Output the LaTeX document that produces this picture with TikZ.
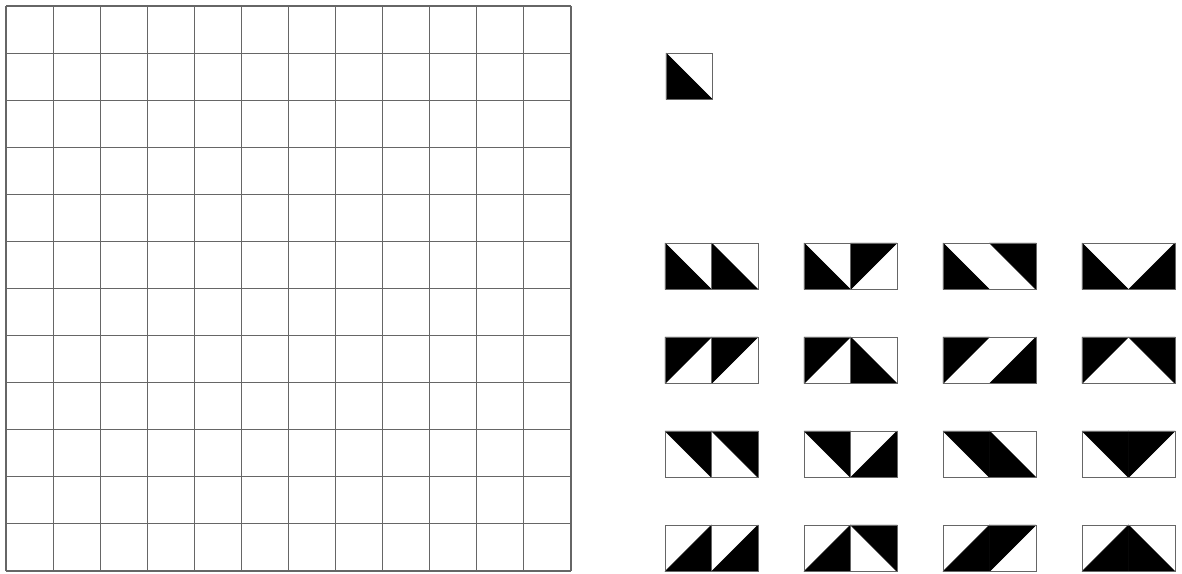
\documentclass[tikz,border=0pt]{standalone}
\usetikzlibrary{calc}
\definecolor{ink}{HTML}{000000}
\definecolor{rule}{HTML}{666666}
\tikzset{
  gridline/.style={draw=rule,line width=1.1pt},
  tileframe/.style={draw=rule,line width=0.9pt},
  wedge/.style={fill=ink,draw=ink,line width=0.5pt,line join=round}
}
\newcommand{\ts}{46.5}
% black half of one square: a lower-left, b upper-left, c upper-right, d lower-right
\newcommand{\wedgea}[2]{\filldraw[wedge] (#1,#2) -- (#1,#2+\ts) -- (#1+\ts,#2+\ts) -- cycle;}
\newcommand{\wedgeb}[2]{\filldraw[wedge] (#1,#2) -- (#1+\ts,#2) -- (#1,#2+\ts) -- cycle;}
\newcommand{\wedgec}[2]{\filldraw[wedge] (#1,#2) -- (#1+\ts,#2) -- (#1+\ts,#2+\ts) -- cycle;}
\newcommand{\wedged}[2]{\filldraw[wedge] (#1+\ts,#2) -- (#1+\ts,#2+\ts) -- (#1,#2+\ts) -- cycle;}
\newcommand{\halftile}[3]{\csname wedge#3\endcsname{#1}{#2}}

\begin{document}
\begin{tikzpicture}[x=1pt,y=-1pt]
    \useasboundingbox (0,0) rectangle (1182,573);

    % empty board
    \foreach \i in {0,...,12} {
      \draw[gridline] (6+\i*47.083,6) -- (6+\i*47.083,571);
      \draw[gridline] (6,6+\i*47.083) -- (571,6+\i*47.083);
    }

    % the single tile
    \halftile{666}{53}{a}
    \draw[tileframe] (666,53) rectangle +(\ts,\ts);

    % pairs of tiles, one row per left tile
    \foreach \y/\l/\p/\q/\r in {243/a/b/c/d, 337/b/a/d/c, 431/c/d/a/b, 525/d/c/b/a} {
      \halftile{665}{\y}{\l}
      \halftile{665+\ts}{\y}{\l}
      \halftile{804}{\y}{\l}
      \halftile{804+\ts}{\y}{\p}
      \halftile{943}{\y}{\l}
      \halftile{943+\ts}{\y}{\q}
      \halftile{1082}{\y}{\l}
      \halftile{1082+\ts}{\y}{\r}
      \foreach \x in {665,804,943,1082}
        \draw[tileframe] (\x,\y) rectangle +(2*\ts,\ts);
      \foreach \x in {665,804}
        \draw[tileframe] (\x+\ts,\y) -- +(0,\ts);
    }
\end{tikzpicture}
\end{document}
